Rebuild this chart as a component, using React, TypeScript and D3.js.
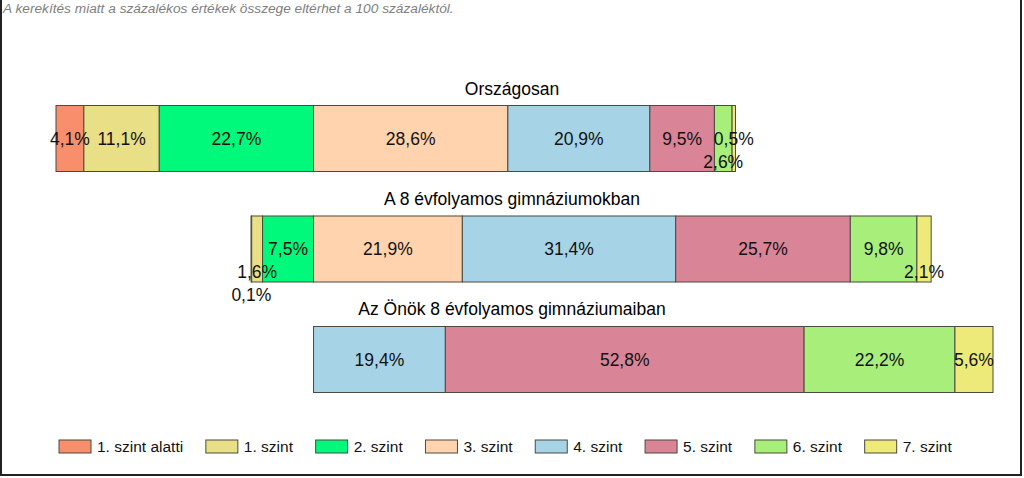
import React from "react";
import * as d3 from "d3";

const levels = ["1. szint alatti", "1. szint", "2. szint", "3. szint", "4. szint", "5. szint", "6. szint", "7. szint"];
const colors = ["#F98E6C", "#E8DF87", "#00F97A", "#FFD3AE", "#A6D3E6", "#D98497", "#A8EE7A", "#EEEA7A"];
const groups = ["Országosan", "A 8 évfolyamos gimnáziumokban", "Az Önök 8 évfolyamos gimnáziumaiban"];
const orszagosan = [4.1, 11.1, 22.7, 28.6, 20.9, 9.5, 2.6, 0.5];
const gimnaziumok = [0.1, 1.6, 7.5, 21.9, 31.4, 25.7, 9.8, 2.1];
const onok = [0, 0, 0, 0, 19.4, 52.8, 22.2, 5.6];
const seriesValues = [orszagosan, gimnaziumok, onok];
const note = "A kerekítés miatt a  százalékos értékek összege eltérhet a 100 százaléktól.";

const W = 1024;
const H = 478;
const LABEL_FONT = 17.5;
const LEGEND_FONT = 15.5;
const FONT = "'Liberation Sans', Arial, sans-serif";

let ctx: CanvasRenderingContext2D | null = null;
function measure(text: string, size: number) {
  if (!ctx) {
    const c = document.createElement("canvas");
    ctx = c.getContext("2d");
  }
  if (!ctx) return text.length * size * 0.55;
  ctx.font = `${size}px 'Liberation Sans', Arial, sans-serif`;
  return ctx.measureText(text).width;
}

const fmt = (v: number) => v.toFixed(1).replace(".", ",") + "%";

export default function App() {
  // align bars at start of "3. szint"
  const below3 = seriesValues.map((vals) => d3.sum(vals.slice(0, 3)));
  const maxBelow = d3.max(below3) as number;
  const offsets = below3.map((b) => maxBelow - b);
  const maxEnd = d3.max(seriesValues.map((vals, i) => offsets[i] + d3.sum(vals))) as number;

  const x = d3.scaleLinear().domain([0, maxEnd]).range([56, 993]);
  const y = d3
    .scaleBand<string>()
    .domain(groups)
    .range([105.5, 392.5])
    .paddingInner(0.4027)
    .paddingOuter(0);
  const bw = y.bandwidth();

  const rows = seriesValues.map((vals, gi) => {
    let acc = offsets[gi];
    const segs = vals.map((v, li) => {
      const s = { li, v, x0: acc, x1: acc + v };
      acc += v;
      return s;
    });
    // label placement: larger segments first, lowest level without collision
    const visible = segs.filter((s) => s.v > 0);
    const order = [...visible].sort((a, b) => b.v - a.v);
    const placed: { l: number; r: number; level: number }[] = [];
    const levelOf = new Map<number, number>();
    order.forEach((s) => {
      const cx = (x(s.x0) + x(s.x1)) / 2;
      const w = measure(fmt(s.v), LABEL_FONT);
      const l = cx - w / 2;
      const r = cx + w / 2;
      let level = 0;
      while (placed.some((p) => p.level === level && l < p.r + 3 && r > p.l - 3)) level++;
      placed.push({ l, r, level });
      levelOf.set(s.li, level);
    });
    return { gi, segs: visible, levelOf };
  });

  // legend
  let lx = 59;
  const legendItems = levels.map((name, i) => {
    const item = { name, i, x: lx };
    lx += 32 + 6 + measure(name, LEGEND_FONT) + 22.7;
    return item;
  });

  return (
    <svg
      width={W}
      height={H}
      style={{ position: "absolute", left: 0, top: 0, background: "#fff" }}
      fontFamily={FONT}
    >
      <rect x={1} y={-2} width={1020} height={477} fill="#fff" stroke="#222" strokeWidth={2} />
      <text x={3} y={13} fontSize={13.7} fontStyle="italic" fill="#808080">
        {note}
      </text>
      {rows.map((row) => {
        const g = groups[row.gi];
        const top = y(g) as number;
        return (
          <g key={g}>
            <text x={512} y={top - 11} textAnchor="middle" fontSize={17.5} fill="#000">
              {g}
            </text>
            {row.segs.map((s) => (
              <rect
                key={s.li}
                x={x(s.x0)}
                y={top}
                width={Math.max(0, x(s.x1) - x(s.x0))}
                height={bw}
                fill={colors[s.li]}
                stroke="#4a4a40"
                strokeWidth={1}
              />
            ))}
            {row.segs.map((s) => (
              <text
                key={"t" + s.li}
                x={(x(s.x0) + x(s.x1)) / 2}
                y={top + bw / 2 + (row.levelOf.get(s.li) || 0) * 23}
                dy="0.35em"
                textAnchor="middle"
                fontSize={LABEL_FONT}
                fill="#111"
              >
                {fmt(s.v)}
              </text>
            ))}
          </g>
        );
      })}
      {legendItems.map((it) => (
        <g key={it.name}>
          <rect x={it.x} y={440} width={32} height={13} fill={colors[it.i]} stroke="#4a4a40" strokeWidth={1} />
          <text x={it.x + 38} y={452} fontSize={LEGEND_FONT} fill="#111">
            {it.name}
          </text>
        </g>
      ))}
    </svg>
  );
}
